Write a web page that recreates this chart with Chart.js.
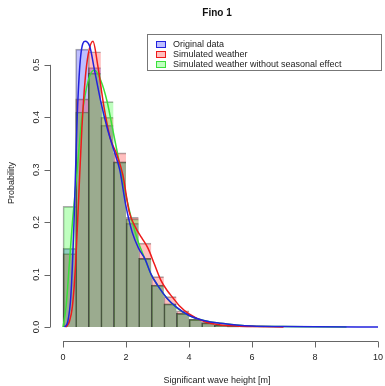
<!DOCTYPE html>
<html>
<head>
<meta charset="utf-8">
<script src="https://cdn.jsdelivr.net/npm/chart.js@4/dist/chart.umd.min.js"></script>
<style>
  body { margin: 0; background: #fff; }
  #wrap { position: relative; width: 385px; height: 386px; }
  #legend {
    position: absolute; left: 147px; top: 34px; width: 235px; height: 37px;
    border: 1px solid #777; font: 9px "Liberation Sans", Arial, sans-serif; color: #222;
    box-sizing: border-box; padding-top: 4px;
  }
  #legend div { height: 10px; line-height: 10px; position: relative; padding-left: 25px; }
  #legend span {
    position: absolute; left: 8px; top: 2px; width: 8px; height: 5px;
  }
</style>
</head>
<body>
<div id="wrap">
  <canvas id="histChart" width="385" height="386"></canvas>
  <div id="legend"></div>
</div>
<script>
// histogram bins (centres, width 0.4 m)
const binCentres = [0.2, 0.6, 1.0, 1.4, 1.8, 2.2, 2.6, 3.0, 3.4, 3.8, 4.2, 4.6, 5.0, 5.4, 5.8, 6.2];
const originalHist = [0.15, 0.53, 0.495, 0.385, 0.315, 0.198, 0.131, 0.080, 0.044, 0.026, 0.014, 0.008, 0.004, 0.002, 0.001, 0.001];
const simulatedHist = [0.14, 0.435, 0.525, 0.40, 0.332, 0.209, 0.160, 0.096, 0.058, 0.031, 0.015, 0.009, 0.003, 0.001, 0.0005, 0];
const noSeasonHist = [0.23, 0.41, 0.484, 0.43, 0.315, 0.206, 0.131, 0.080, 0.044, 0.026, 0.015, 0.008, 0.004, 0.002, 0.001, 0.001];

// density curves
const originalDensX = [0.05, 0.15, 0.25, 0.35, 0.45, 0.55, 0.7, 0.85, 1.0, 1.2, 1.4, 1.6, 1.8, 2.0, 2.2, 2.4, 2.6, 2.8, 3.0, 3.3, 3.6, 4.0, 4.5, 5.0, 5.5, 6.0, 7.0, 8.0, 10.0];
const originalDensY = [0, 0.01, 0.06, 0.2, 0.4, 0.51, 0.545, 0.535, 0.49, 0.43, 0.38, 0.34, 0.30, 0.23, 0.18, 0.15, 0.13, 0.10, 0.08, 0.055, 0.038, 0.022, 0.012, 0.007, 0.004, 0.002, 0.001, 0.0005, 0];
const simulatedDensX = [0.1, 0.2, 0.3, 0.4, 0.5, 0.6, 0.7, 0.8, 0.95, 1.1, 1.3, 1.5, 1.7, 1.9, 2.1, 2.3, 2.5, 2.7, 2.9, 3.1, 3.3, 3.5, 3.7, 4.0, 4.5, 5.0, 5.5, 6.0, 7.0];
const simulatedDensY = [0, 0.01, 0.04, 0.12, 0.25, 0.38, 0.47, 0.52, 0.545, 0.5, 0.42, 0.36, 0.33, 0.29, 0.22, 0.19, 0.17, 0.15, 0.12, 0.09, 0.07, 0.055, 0.04, 0.025, 0.01, 0.004, 0.002, 0.001, 0];
const noSeasonDensX = [0, 0.1, 0.2, 0.3, 0.45, 0.6, 0.8, 1.0, 1.2, 1.4, 1.6, 1.8, 2.0, 2.2, 2.4, 2.6, 2.8, 3.0, 3.3, 3.6, 4.0, 4.5, 5.0, 5.5, 6.0, 7.0, 8.0, 9.0];
const noSeasonDensY = [0, 0.04, 0.12, 0.2, 0.3, 0.4, 0.47, 0.49, 0.47, 0.43, 0.37, 0.31, 0.25, 0.2, 0.16, 0.13, 0.1, 0.08, 0.055, 0.037, 0.022, 0.012, 0.007, 0.004, 0.002, 0.001, 0.0005, 0];

const seriesNames = ["Original data", "Simulated weather", "Simulated weather without seasonal effect"];
const xTicks = [0, 2, 4, 6, 8, 10];
const yTicks = [0, 0.1, 0.2, 0.3, 0.4, 0.5];

const fills = ["rgba(0,0,255,0.25)", "rgba(255,0,0,0.25)", "rgba(0,255,0,0.25)"];
const lines = ["#2222dd", "#ee1a1a", "#3ae03a"];

const pts = (xs, ys) => xs.map((x, i) => ({ x: x, y: ys[i] }));

// R style axes: line only between first and last tick
const rAxes = {
  id: "rAxes",
  afterDraw(chart) {
    const { ctx, chartArea, scales } = chart;
    ctx.save();
    ctx.strokeStyle = "#666";
    ctx.lineWidth = 1;
    ctx.beginPath();
    const yb = Math.round(chartArea.bottom) + 0.5;
    ctx.moveTo(scales.x.getPixelForValue(xTicks[0]), yb);
    ctx.lineTo(scales.x.getPixelForValue(xTicks[xTicks.length - 1]), yb);
    xTicks.forEach((t) => {
      const px = Math.round(scales.x.getPixelForValue(t)) + 0.5;
      ctx.moveTo(px, yb);
      ctx.lineTo(px, yb + 6);
    });
    const xl = Math.round(chartArea.left) + 0.5;
    ctx.moveTo(xl, scales.y.getPixelForValue(yTicks[0]));
    ctx.lineTo(xl, scales.y.getPixelForValue(yTicks[yTicks.length - 1]));
    yTicks.forEach((t) => {
      const py = Math.round(scales.y.getPixelForValue(t)) + 0.5;
      ctx.moveTo(xl, py);
      ctx.lineTo(xl - 6, py);
    });
    ctx.stroke();
    ctx.restore();
  },
};

Chart.defaults.font.family = '"Liberation Sans", Arial, sans-serif';
Chart.defaults.color = "#222";

const histSets = [originalHist, simulatedHist, noSeasonHist].map((h, i) => ({
  type: "bar",
  label: seriesNames[i],
  data: pts(binCentres, h),
  backgroundColor: fills[i],
  borderColor: "rgba(0,0,0,0.33)",
  borderWidth: { top: 1, left: 1, right: 0, bottom: 0 },
  borderSkipped: false,
  grouped: false,
  barPercentage: 1,
  categoryPercentage: 1,
  order: 3 - i,
}));

const densSets = [
  [originalDensX, originalDensY],
  [simulatedDensX, simulatedDensY],
  [noSeasonDensX, noSeasonDensY],
].map((d, i) => ({
  type: "line",
  label: seriesNames[i] + " density",
  data: pts(d[0], d[1]),
  borderColor: lines[i],
  borderWidth: 1.5,
  pointRadius: 0,
  fill: false,
  cubicInterpolationMode: "monotone",
  order: 0,
}));

const ctx = document.getElementById("histChart").getContext("2d");
new Chart(ctx, {
  type: "bar",
  data: { datasets: histSets.concat(densSets) },
  options: {
    responsive: false,
    animation: false,
    devicePixelRatio: 1,
    layout: { padding: { top: 0, right: 1, bottom: 0, left: 0 } },
    plugins: {
      legend: { display: false },
      tooltip: { enabled: false },
      title: {
        display: true,
        text: "Fino 1",
        fullSize: false,
        font: { size: 10, weight: "bold" },
        color: "#111",
        padding: { top: 7, bottom: 6 },
      },
    },
    scales: {
      x: {
        type: "linear",
        offset: false,
        min: -0.413,
        max: 10.19,
        grid: { display: false, drawTicks: false, offset: false },
        border: { display: false },
        afterBuildTicks: (s) => { s.ticks = xTicks.map((v) => ({ value: v })); },
        afterFit: (s) => { s.height = 45; s.paddingLeft = 0; s.paddingRight = 0; },
        ticks: { font: { size: 9 }, padding: 11, maxRotation: 0, autoSkip: false, callback: (v) => String(v) },
        title: { display: true, text: "Significant wave height [m]", font: { size: 9 }, padding: { top: 0, bottom: 0 } },
      },
      y: {
        min: -0.0267,
        max: 0.576,
        grid: { display: false, drawTicks: false },
        border: { display: false },
        afterBuildTicks: (s) => { s.ticks = yTicks.map((v) => ({ value: v })); },
        afterFit: (s) => { s.width = 50; },
        ticks: { font: { size: 9 }, padding: 7, minRotation: 90, maxRotation: 90, crossAlign: "center", autoSkip: false, callback: (v) => v.toFixed(1) },
        title: { display: true, text: "Probability", font: { size: 9 }, padding: { top: 6.6, bottom: 0 } },
      },
    },
  },
  plugins: [rAxes],
});

// legend box like R's legend()
const legendEl = document.getElementById("legend");
seriesNames.forEach((name, i) => {
  const row = document.createElement("div");
  const sw = document.createElement("span");
  sw.style.background = fills[i];
  sw.style.border = "1px solid " + lines[i];
  row.appendChild(sw);
  row.appendChild(document.createTextNode(name));
  legendEl.appendChild(row);
});
</script>
</body>
</html>
